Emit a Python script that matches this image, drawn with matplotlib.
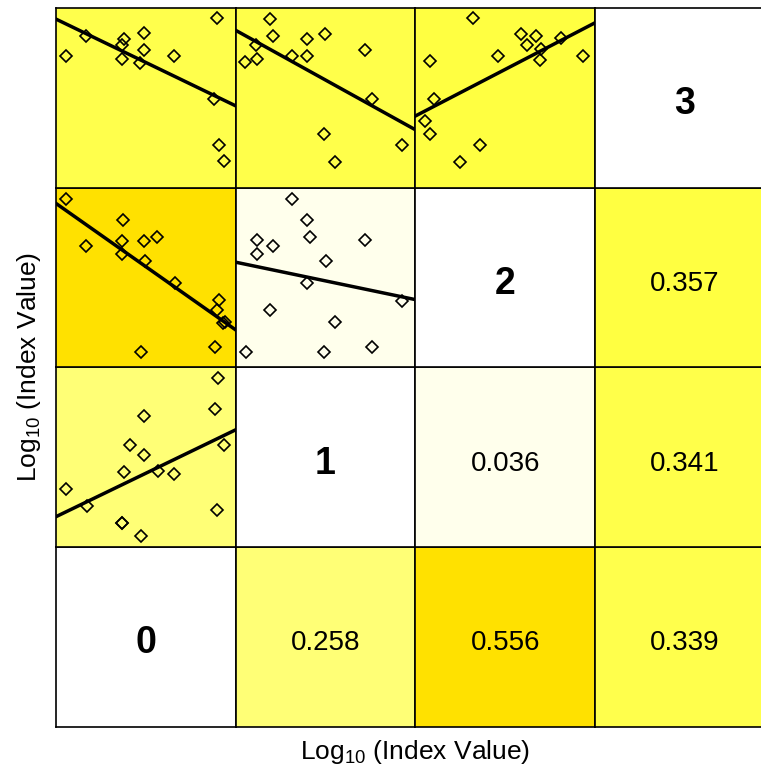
import numpy as np
import matplotlib
matplotlib.use("Agg")
import matplotlib.pyplot as plt
from matplotlib.colors import LinearSegmentedColormap

plt.rcParams['font.family'] = ['Liberation Sans', 'DejaVu Sans']
plt.rcParams['mathtext.fontset'] = 'custom'
plt.rcParams['mathtext.rm'] = 'Liberation Sans'

var_names = ['0', '1', '2', '3']

# R^2 printed in the upper cells (row variable, column variable)
r2_row = [0, 0, 0, 1, 1, 2]
r2_col = [1, 2, 3, 2, 3, 3]
r2_val = [0.258, 0.556, 0.339, 0.036, 0.341, 0.357]

# scatter values, both variables rescaled to 0-100 inside a panel
# panel "y_x" : y variable against x variable
x_1_0 = [89.9, 88.5, 49.0, 41.2, 49.0, 93.7, 37.8, 56.8, 65.7, 5.8, 17.3, 89.4, 36.5, 36.5, 47.1]
y_1_0 = [94.2, 77.1, 72.8, 56.6, 51.4, 57.0, 41.7, 42.1, 40.8, 32.4, 22.7, 20.9, 13.4, 13.4, 6.3]

x_2_0 = [5.8, 37.4, 16.9, 36.5, 49.0, 56.4, 36.5, 49.3, 66.1, 90.5, 89.6, 92.7, 94.0, 88.5, 47.1]
y_2_0 = [93.5, 82.1, 67.4, 70.6, 70.6, 72.8, 63.1, 59.4, 46.9, 37.6, 32.0, 24.6, 25.3, 11.5, 8.6]

x_2_1 = [31.3, 39.7, 41.5, 11.7, 21.0, 11.7, 71.7, 50.3, 39.7, 92.4, 19.2, 55.1, 5.6, 49.0, 76.0]
y_2_1 = [93.5, 82.1, 72.8, 70.9, 67.4, 63.1, 70.9, 59.4, 46.7, 37.1, 32.0, 25.3, 8.6, 8.6, 11.5]

x_3_0 = [5.8, 16.9, 37.8, 36.9, 36.5, 49.0, 49.0, 46.7, 65.7, 89.6, 88.1, 90.5, 93.7]
y_3_0 = [73.4, 84.5, 82.7, 79.3, 71.5, 86.0, 76.7, 69.6, 73.4, 94.2, 49.2, 23.5, 14.7]

x_3_1 = [19.2, 21.0, 39.7, 49.9, 11.4, 5.2, 11.7, 31.3, 39.7, 71.7, 76.0, 49.0, 92.7, 55.1]
y_3_1 = [93.9, 84.5, 82.7, 85.8, 79.3, 70.2, 71.5, 73.4, 73.4, 76.5, 49.5, 30.0, 23.6, 14.3]

x_3_2 = [31.8, 58.7, 67.2, 81.0, 62.0, 69.8, 8.0, 46.2, 69.1, 93.3, 10.2, 5.2, 8.0, 35.9, 24.8]
y_3_2 = [94.2, 85.8, 84.5, 83.1, 79.3, 77.1, 70.6, 73.4, 71.1, 73.4, 49.5, 37.1, 30.0, 23.5, 14.3]

scatter = {
    (1, 0): (x_1_0, y_1_0),
    (2, 0): (x_2_0, y_2_0),
    (2, 1): (x_2_1, y_2_1),
    (3, 0): (x_3_0, y_3_0),
    (3, 1): (x_3_1, y_3_1),
    (3, 2): (x_3_2, y_3_2),
}

cmap = LinearSegmentedColormap.from_list(
    'r2', [(0.0, '#FFFFFF'), (0.48, '#FFFF00'), (0.6, '#FFD000'), (1.0, '#FFA000')])

r2 = {}
for i, j, v in zip(r2_row, r2_col, r2_val):
    r2[(i, j)] = v
    r2[(j, i)] = v

W, H = 761, 775
fig = plt.figure(figsize=(W / 100, H / 100), dpi=100)
X0, Y0, S = 56, 8, 179.7
n = len(var_names)


def cell(k_row, col):
    # k_row counts from the top
    left = (X0 + col * S) / W
    bottom = 1 - (Y0 + (k_row + 1) * S) / H
    ax = fig.add_axes([left, bottom, S / W, S / H])
    ax.set_xlim(0, 100)
    ax.set_ylim(0, 100)
    ax.set_xticks([])
    ax.set_yticks([])
    for sp in ax.spines.values():
        sp.set_linewidth(1.2)
    return ax


for yv in range(n):
    for xv in range(n):
        ax = cell(n - 1 - yv, xv)
        if yv == xv:
            ax.set_facecolor('white')
            ax.text(50, 46.5, var_names[yv], ha='center', va='center',
                    fontsize=27, fontweight='bold')
        elif yv > xv:
            ax.set_facecolor(cmap(r2[(yv, xv)]))
            xs, ys = scatter[(yv, xv)]
            xs = np.array(xs)
            ys = np.array(ys)
            ax.plot(xs, ys, 'D', mfc='none', mec='black', ms=6.3, mew=1.2)
            b, a = np.polyfit(xs, ys, 1)
            xl = np.array([0, 100])
            ax.plot(xl, a + b * xl, color='black', lw=2.5)
        else:
            ax.set_facecolor(cmap(r2[(yv, xv)]))
            ax.text(50, 46.5, f"{r2[(yv, xv)]:.3f}", ha='center', va='center',
                    fontsize=20)

label = r'Log$\mathregular{_{10}}$ (Index Value)'
fig.text((X0 + 2 * S) / W, 1 - 752 / H, label, ha='center', va='center', fontsize=19)
fig.text(29 / W, 1 - (Y0 + 2 * S) / H, label, ha='center', va='center',
         fontsize=19, rotation=90)

fig.savefig('out.png', dpi=100)
